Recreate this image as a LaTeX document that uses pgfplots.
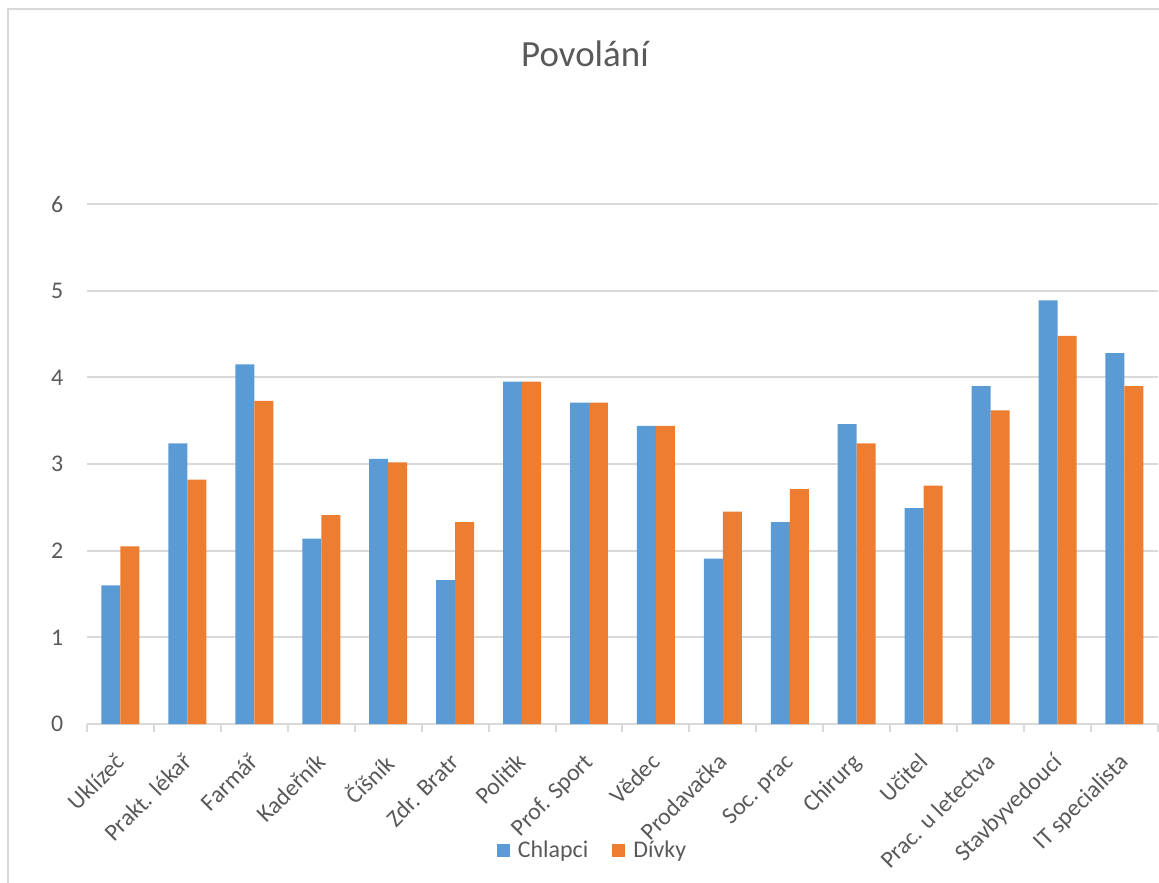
\documentclass[border=0pt]{standalone}
\usepackage{fontspec}
\setmainfont{Carlito}
\usepackage{pgfplots}
\pgfplotsset{compat=1.18}
\definecolor{cblue}{HTML}{5B9BD5}
\definecolor{corange}{HTML}{ED7D31}
\definecolor{ctext}{HTML}{595959}
\definecolor{cgrid}{HTML}{D9D9D9}
\pgfplotstableread{
idx chl div
0 1.60 2.05
1 3.24 2.82
2 4.15 3.73
3 2.14 2.41
4 3.06 3.02
5 1.66 2.33
6 3.95 3.95
7 3.71 3.71
8 3.44 3.44
9 1.91 2.45
10 2.33 2.71
11 3.46 3.24
12 2.49 2.75
13 3.90 3.62
14 4.89 4.48
15 4.28 3.90
}\datatable
\begin{document}
\begin{tikzpicture}
\path[use as bounding box] (-87*0.3764pt,-158*0.3764pt) rectangle (1072*0.3764pt,724*0.3764pt);
\draw[cgrid, line width=0.75pt] (-79*0.3764pt,-200*0.3764pt) -- (-79*0.3764pt,715*0.3764pt) -- (1100*0.3764pt,715*0.3764pt);
\begin{axis}[
  at={(0pt,0pt)}, anchor=south west,
  scale only axis,
  width=403.1pt, height=195.7pt,
  xmin=-0.5, xmax=15.5, ymin=0, ymax=6,
  enlargelimits=false,
  ybar=0pt, bar width=7.15pt,
  axis x line*=bottom, axis y line*=left,
  x axis line style={-, cgrid, line width=0.75pt},
  y axis line style={draw=none},
  xtick={0,...,15},
  xticklabels={Uklízeč, Prakt. lékař, Farmář, Kadeřník, Číšník, Zdr. Bratr, Politik, Prof. Sport, Vědec, Prodavačka, Soc. prac, Chirurg, Učitel, Prac. u letectva, Stavbyvedoucí, IT specialista},
  minor xtick={-0.5,0.5,...,15.5},
  ytick={0,1,...,6},
  major tick length=0pt, minor tick length=3pt,
  tick align=outside,
  minor x tick style={cgrid, line width=0.75pt},
  ymajorgrids,
  major grid style={cgrid, line width=0.75pt},
  /pgf/number format/assume math mode=true,
  ticklabel style={font=\fontsize{9pt}{11pt}\selectfont, text=ctext},
  yticklabel style={anchor=east, inner sep=0pt, xshift=-8.7pt},
  xticklabel style={xshift=-2.35pt, yshift=-10.2pt, rotate=45, anchor=north east, inner sep=0pt},
  title={Povolání},
  title style={at={(0.465,1.258)}, anchor=center, font=\fontsize{13.9pt}{16pt}\selectfont, text=ctext},
  legend style={at={(0.4735,-0.244)}, anchor=center, draw=none, fill=none,
    legend columns=2, font=\fontsize{9pt}{11pt}\selectfont, text=ctext,
    /tikz/every even column/.append style={column sep=7pt},
    inner sep=0pt},
  legend image code/.code={\fill[#1] (0pt,-2.45pt) rectangle (4.9pt,2.45pt); \path (6pt,0pt);},
]
\addplot[fill=cblue, draw=none] table[x=idx, y=chl] {\datatable};
\addplot[fill=corange, draw=none] table[x=idx, y=div] {\datatable};
\legend{Chlapci, Dívky}
\end{axis}
\end{tikzpicture}
\end{document}
